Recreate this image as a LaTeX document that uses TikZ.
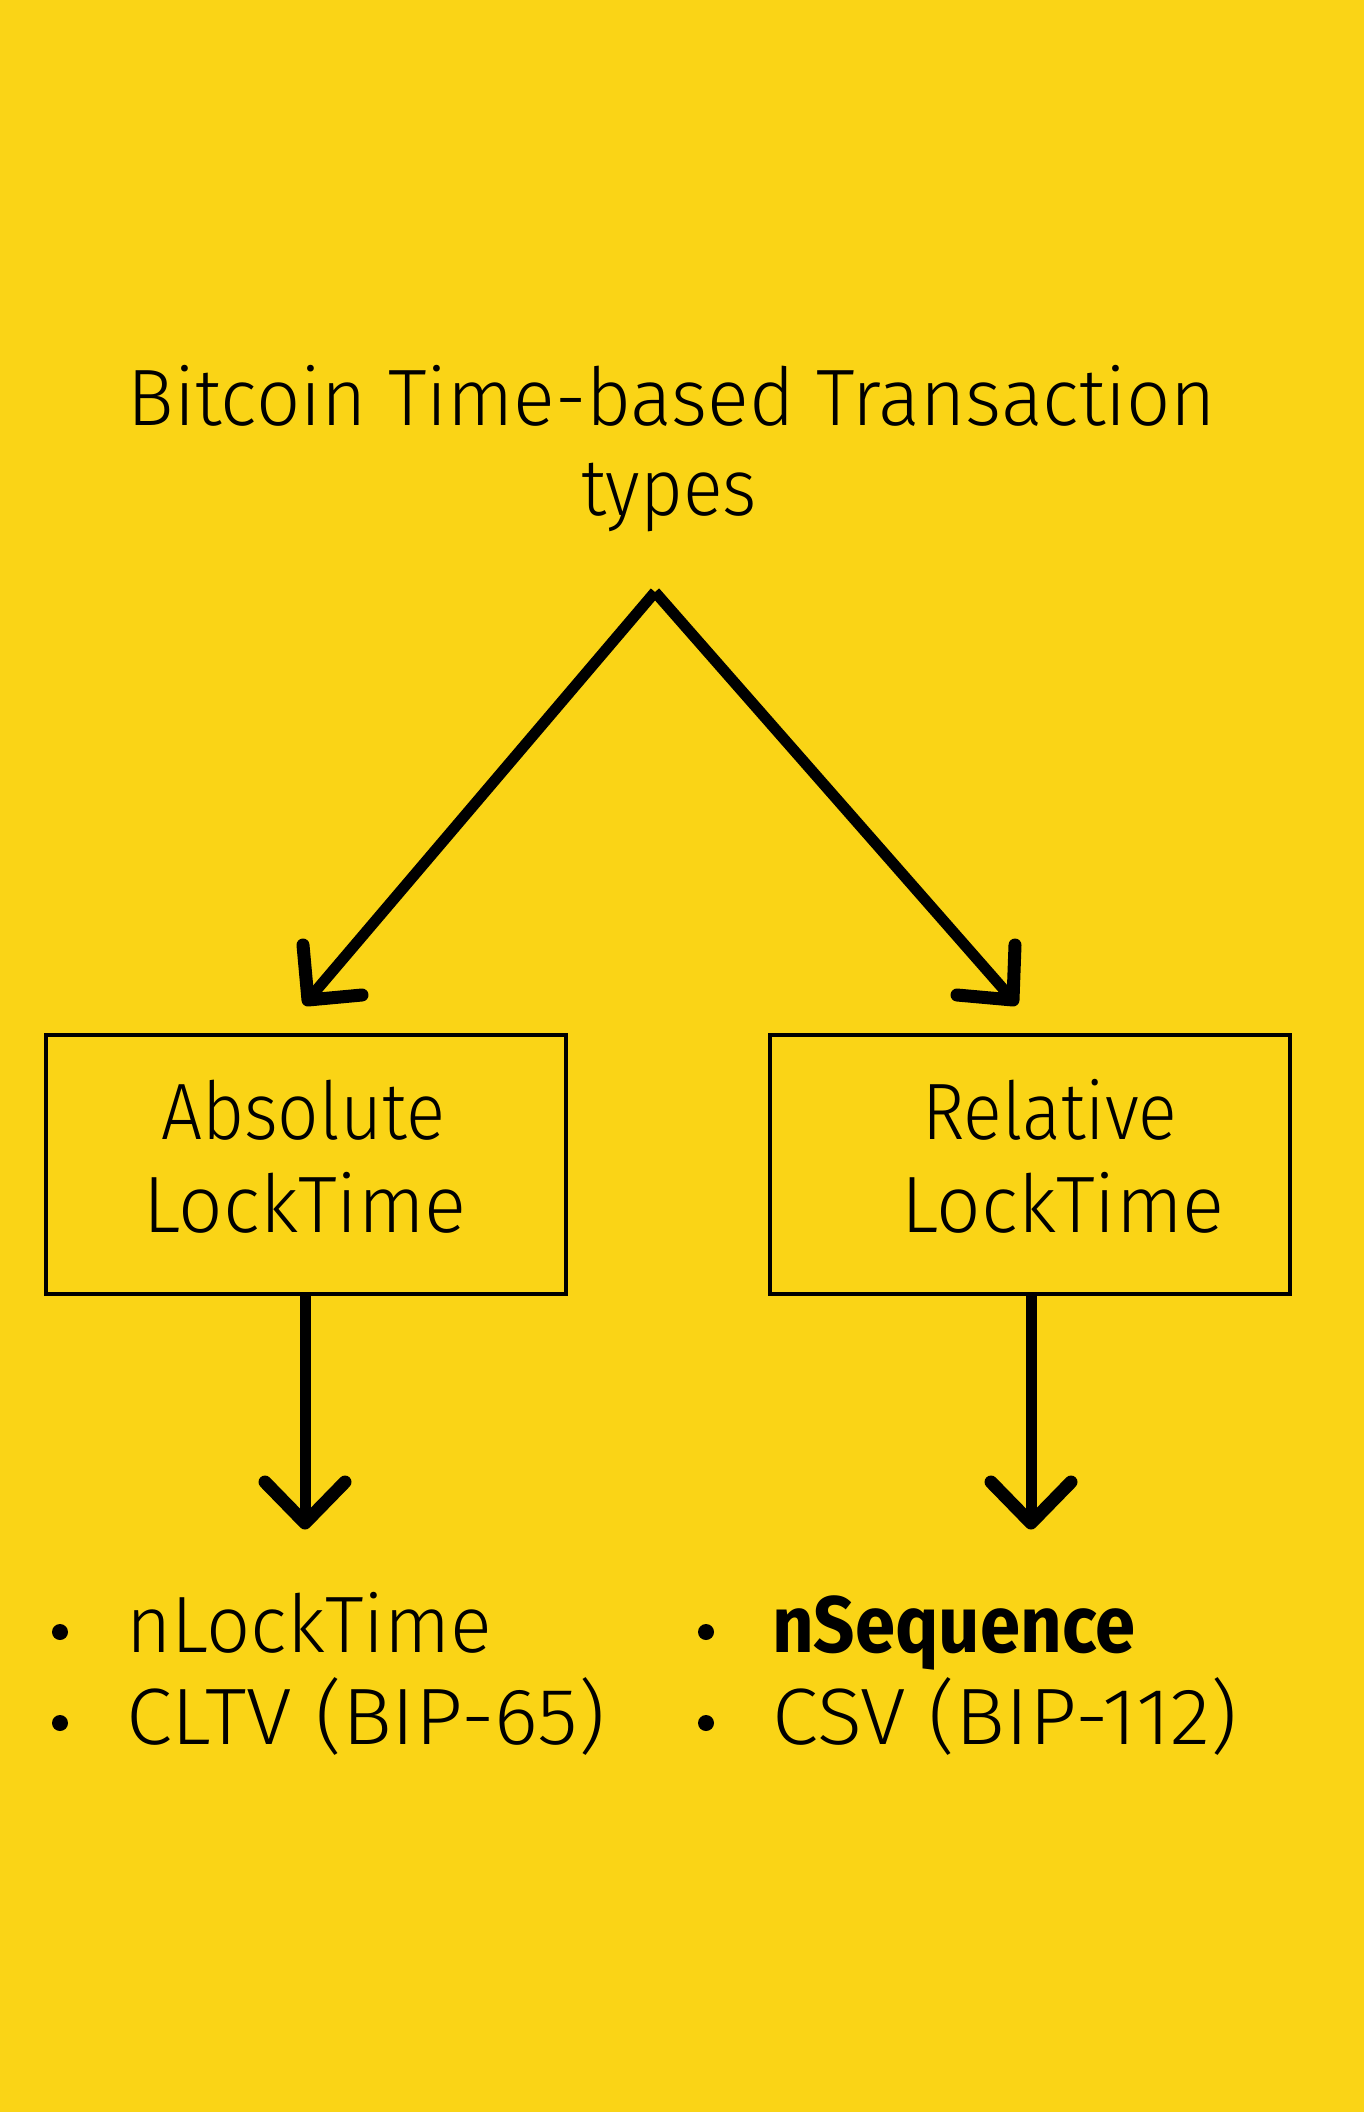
\documentclass[tikz,border=0pt]{standalone}
\usepackage{fontspec}
\setmainfont{Fira Sans Light}[BoldFont={Fira Sans Bold}]
\usepackage{graphicx}
\definecolor{bg}{RGB}{250,212,22}
\newcommand\fitw[2]{\resizebox{#1pt}{\height}{#2}}
\tikzset{
  txt/.style={inner sep=0pt, font=\fontsize{80}{96}\selectfont, text=black},
  box/.style={draw=black, line width=4pt, minimum width=520pt, minimum height=259pt, inner sep=0pt},
  shaft/.style={draw=black, line width=11pt},
  wing/.style={draw=black, line width=13pt, line cap=round, line join=round},
  bul/.style={circle, fill=black, inner sep=0pt, minimum size=16pt},
}
\begin{document}
\begin{tikzpicture}[x=1pt,y=-1pt]
\fill[bg] (0,0) rectangle (1364,2112);
\useasboundingbox (0,0) rectangle (1364,2112);

% title
\node[txt, anchor=base] (title) at (672,425) {\fitw{1088}{Bitcoin Time-based Transaction}};
\node[txt, anchor=base] (types) at (669,515) {\fitw{176}{types}};
\coordinate (apex) at (655,592);

% boxes
\node[box] (absbox) at (305.5,1164) {};
\node[box] (relbox) at (1030,1164) {};
\node[txt, anchor=base] (abs1) at (303,1139) {\fitw{284}{Absolute}};
\node[txt, anchor=base] (abs2) at (305,1232) {\fitw{323}{LockTime}};
\node[txt, anchor=base] (rel1) at (1050,1139) {\fitw{255}{Relative}};
\node[txt, anchor=base] (rel2) at (1063,1232) {\fitw{323}{LockTime}};

% diagonal arrows
\coordinate (tipL) at (308,1000);
\coordinate (tipR) at (1013,1000);
\draw[shaft] (apex) -- (tipL);
\draw[shaft] (apex) -- (tipR);
\draw[wing] (303,945) -- (tipL) -- (362,995);
\draw[wing] (1015,945) -- (tipR) -- (957,995);

% vertical arrows
\coordinate (tipDL) at (305,1523);
\coordinate (tipDR) at (1031,1523);
\draw[shaft] (absbox.south -| tipDL) -- (tipDL);
\draw[shaft] (relbox.south -| tipDR) -- (tipDR);
\draw[wing] (265,1482) -- (tipDL) -- (345,1482);
\draw[wing] (991,1482) -- (tipDR) -- (1071,1482);

% lists
\node[bul] (b1) at (60,1632) {};
\node[bul] (b2) at (60,1723) {};
\node[bul] (b3) at (706,1632) {};
\node[bul] (b4) at (706,1723) {};
\node[txt, anchor=base west] (l1) at (126,1652) {\fitw{366}{nLockTime}};
\node[txt, anchor=base west] (l2) at (126,1744) {\fitw{479}{CLTV (BIP-65)}};
\node[txt, anchor=base west] (r1) at (772,1652) {\fitw{363}{\bfseries nSequence}};
\node[txt, anchor=base west] (r2) at (772,1744) {\fitw{465}{CSV (BIP-112)}};
\end{tikzpicture}
\end{document}
